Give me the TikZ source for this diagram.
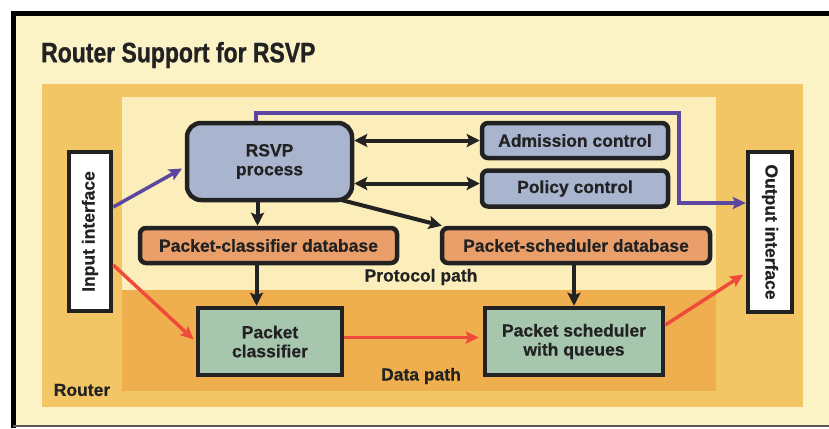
\documentclass[tikz,border=0pt]{standalone}
\usepackage{fontspec}
\setmainfont{Liberation Sans}[BoldFeatures={FakeBold=0.6}]
\newfontfamily\titlefont[FakeStretch=0.82,BoldFeatures={FakeBold=1}]{Liberation Sans}
\usetikzlibrary{arrows.meta}
\definecolor{cream}{HTML}{FBF2C6}
\definecolor{routerc}{HTML}{F2C665}
\definecolor{protoc}{HTML}{FBEEBA}
\definecolor{datac}{HTML}{EFAF4E}
\definecolor{bluec}{HTML}{A9B4CE}
\definecolor{dbc}{HTML}{EA9F6A}
\definecolor{greenc}{HTML}{A6C6AE}
\definecolor{ink}{HTML}{222222}
\definecolor{redc}{HTML}{F04B3A}
\definecolor{purplec}{HTML}{5B46A0}
\tikzset{
  lbl/.style={font=\fontsize{17.5}{19}\selectfont\bfseries, text=ink, inner sep=0pt},
  box/.style={lbl, draw=ink, line width=4.5pt, align=center},
  bluebox/.style={box, fill=bluec, rounded corners=6pt},
  dbbox/.style={box, fill=dbc, rounded corners=6pt},
  greenbox/.style={box, fill=greenc},
  ifbox/.style={box, fill=white},
  tip/.style={},
  blk/.style={draw=ink, line width=4pt, -{Stealth[length=13pt,width=13pt,inset=2.5pt]}},
  blkboth/.style={draw=ink, line width=4pt, {Stealth[length=13pt,width=13pt,inset=2.5pt]}-{Stealth[length=13pt,width=13pt,inset=2.5pt]}},
  redarr/.style={draw=redc, line width=3.5pt, -{Stealth[length=13pt,width=12pt,inset=2.5pt]}},
  purarr/.style={draw=purplec, line width=3.5pt, -{Stealth[length=13pt,width=12pt,inset=2.5pt]}},
}
\begin{document}
\begin{tikzpicture}[x=1pt,y=-1pt]
\useasboundingbox (0,0) rectangle (829,428);
\fill[white] (0,0) rectangle (829,428);
% frame
\fill[cream] (13,14) rectangle (829,426);
\draw[black, line width=5pt] (13,428) -- (13,14) -- (829,14);
\draw[gray!70!black, line width=1.5pt] (13,426) -- (829,426);
% title
\node[anchor=west, inner sep=0pt, text=ink, font=\titlefont\fontsize{28}{30}\selectfont\bfseries] (title) at (41,55) {Router Support for RSVP};
% regions
\fill[routerc] (42,84) rectangle (803,407);
\fill[protoc] (122,97) rectangle (716,290);
\fill[datac] (122,290) rectangle (716,391);
\node[lbl] (router) at (82,390) {Router};
\node[lbl] (ppath) at (421,277) {Protocol path};
\node[lbl] (dpath) at (421,376) {Data path};
% nodes
\node[bluebox, rounded corners=14pt, minimum width=165pt, minimum height=77pt] (rsvp) at (269.5,161.5) {RSVP\\process};
\node[bluebox, minimum width=186pt, minimum height=35pt] (adm) at (575,140.5) {Admission control};
\node[bluebox, minimum width=186pt, minimum height=36pt] (pol) at (575,188.5) {Policy control};
\node[dbbox, minimum width=257pt, minimum height=35pt] (cdb) at (268.5,245.5) {Packet-classifier database};
\node[dbbox, minimum width=268pt, minimum height=35pt] (sdb) at (576,245.5) {Packet-scheduler database};
\node[greenbox, minimum width=144pt, minimum height=67pt] (pcls) at (270,341.5) {Packet\\classifier};
\node[greenbox, minimum width=178pt, minimum height=67pt] (psch) at (574,341.5) {Packet scheduler\\with queues};
\node[ifbox, minimum width=159pt, minimum height=42pt, rotate=90] (inp) at (90,231.5) {Input interface};
\node[ifbox, minimum width=160pt, minimum height=44pt, rotate=-90] (out) at (770,232) {Output interface};
% black arrows
\draw[blkboth] (adm.west -| rsvp.east) -- (adm.west);
\draw[blkboth] ([yshift=5pt]pol.west -| rsvp.east) -- ([yshift=5pt]pol.west);
\draw[blk] ([xshift=-12pt]rsvp.south) -- ([xshift=-12pt]rsvp.south |- cdb.north);
\draw[blk] ([xshift=-12pt]cdb.south) -- ([xshift=-12pt]cdb.south |- pcls.north);
\coordinate (rse) at ([xshift=-12pt,yshift=2pt]rsvp.south east);
\draw[blk] (rse) -- ([xshift=2pt]sdb.north west);
\draw[blk] (sdb.south -| psch.north) -- (psch.north);
% purple
\coordinate (p1) at (256,113);
\coordinate (p2) at (679,113);
\coordinate (p3) at (679,203);
\draw[purarr] (rsvp.north -| p1) -- (p1) -- (p2) -- (p3) -- (p3 -| out.south);
\draw[purarr, shorten >=3pt] ([yshift=24.5pt]inp.south) -- ([yshift=-5.5pt]rsvp.west);
% red
\draw[redarr, shorten >=3pt] ([yshift=-33.5pt]inp.south) -- (pcls.west);
\draw[redarr, shorten >=4pt] ([yshift=4pt]pcls.east) -- ([yshift=4pt]psch.west);
\draw[redarr, shorten >=3pt] ([yshift=16.5pt]psch.east) -- ([yshift=-41pt]out.south);
\end{tikzpicture}
\end{document}
